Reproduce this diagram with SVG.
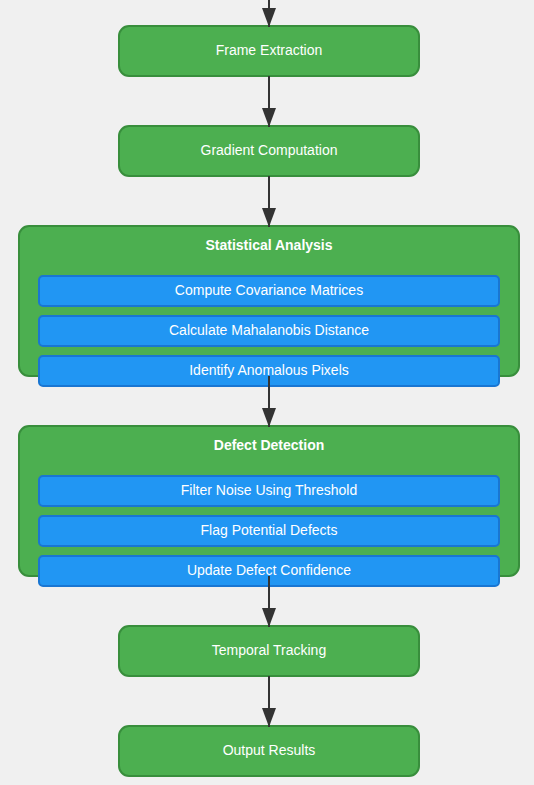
<svg xmlns="http://www.w3.org/2000/svg" width="534" height="785" viewBox="0 0 534 785">
<style>
.bg{fill:#f0f0f0}
.node{fill:#4caf50;stroke:#388e3c;stroke-width:2}
.sub{fill:#2196f3;stroke:#1976d2;stroke-width:2}
.t{font-family:"Liberation Sans",Arial,sans-serif;font-size:14px;fill:#ffffff;text-anchor:middle;dominant-baseline:central}
.title{font-weight:bold}
.edge{stroke:#333333;stroke-width:2;fill:none;marker-end:url(#arrow)}
</style>
<defs>
<marker id="arrow" viewBox="0 0 19 14" refX="19" refY="7" markerWidth="19" markerHeight="14" markerUnits="userSpaceOnUse" orient="auto">
<path d="M0,0 L19,7 L0,14 Z" fill="#333333"/>
</marker>
</defs>
<rect class="bg" x="0" y="0" width="534" height="785"/>
<g id="frame-extraction">
<rect class="node" x="119" y="26" width="300" height="50" rx="10"/>
<text class="t" x="269" y="50">Frame Extraction</text>
</g>
<g id="gradient-computation">
<rect class="node" x="119" y="126" width="300" height="50" rx="10"/>
<text class="t" x="269" y="150">Gradient Computation</text>
</g>
<g id="statistical-analysis">
<rect class="node" x="19" y="226" width="500" height="150" rx="10"/>
<text class="t title" x="269" y="245">Statistical Analysis</text>
<rect class="sub" x="39" y="276" width="460" height="30" rx="4"/>
<text class="t" x="269" y="290">Compute Covariance Matrices</text>
<rect class="sub" x="39" y="316" width="460" height="30" rx="4"/>
<text class="t" x="269" y="330">Calculate Mahalanobis Distance</text>
<rect class="sub" x="39" y="356" width="460" height="30" rx="4"/>
<text class="t" x="269" y="370">Identify Anomalous Pixels</text>
</g>
<g id="defect-detection">
<rect class="node" x="19" y="426" width="500" height="150" rx="10"/>
<text class="t title" x="269" y="445">Defect Detection</text>
<rect class="sub" x="39" y="476" width="460" height="30" rx="4"/>
<text class="t" x="269" y="490">Filter Noise Using Threshold</text>
<rect class="sub" x="39" y="516" width="460" height="30" rx="4"/>
<text class="t" x="269" y="530">Flag Potential Defects</text>
<rect class="sub" x="39" y="556" width="460" height="30" rx="4"/>
<text class="t" x="269" y="570">Update Defect Confidence</text>
</g>
<g id="temporal-tracking">
<rect class="node" x="119" y="626" width="300" height="50" rx="10"/>
<text class="t" x="269" y="650">Temporal Tracking</text>
</g>
<g id="output-results">
<rect class="node" x="119" y="726" width="300" height="50" rx="10"/>
<text class="t" x="269" y="750">Output Results</text>
</g>
<g id="connectors">
<line class="edge" x1="269" y1="0" x2="269" y2="27"/>
<line class="edge" x1="269" y1="76" x2="269" y2="127"/>
<line class="edge" x1="269" y1="176" x2="269" y2="227"/>
<line class="edge" x1="269" y1="376" x2="269" y2="427"/>
<line class="edge" x1="269" y1="576" x2="269" y2="627"/>
<line class="edge" x1="269" y1="676" x2="269" y2="727"/>
</g>
</svg>
